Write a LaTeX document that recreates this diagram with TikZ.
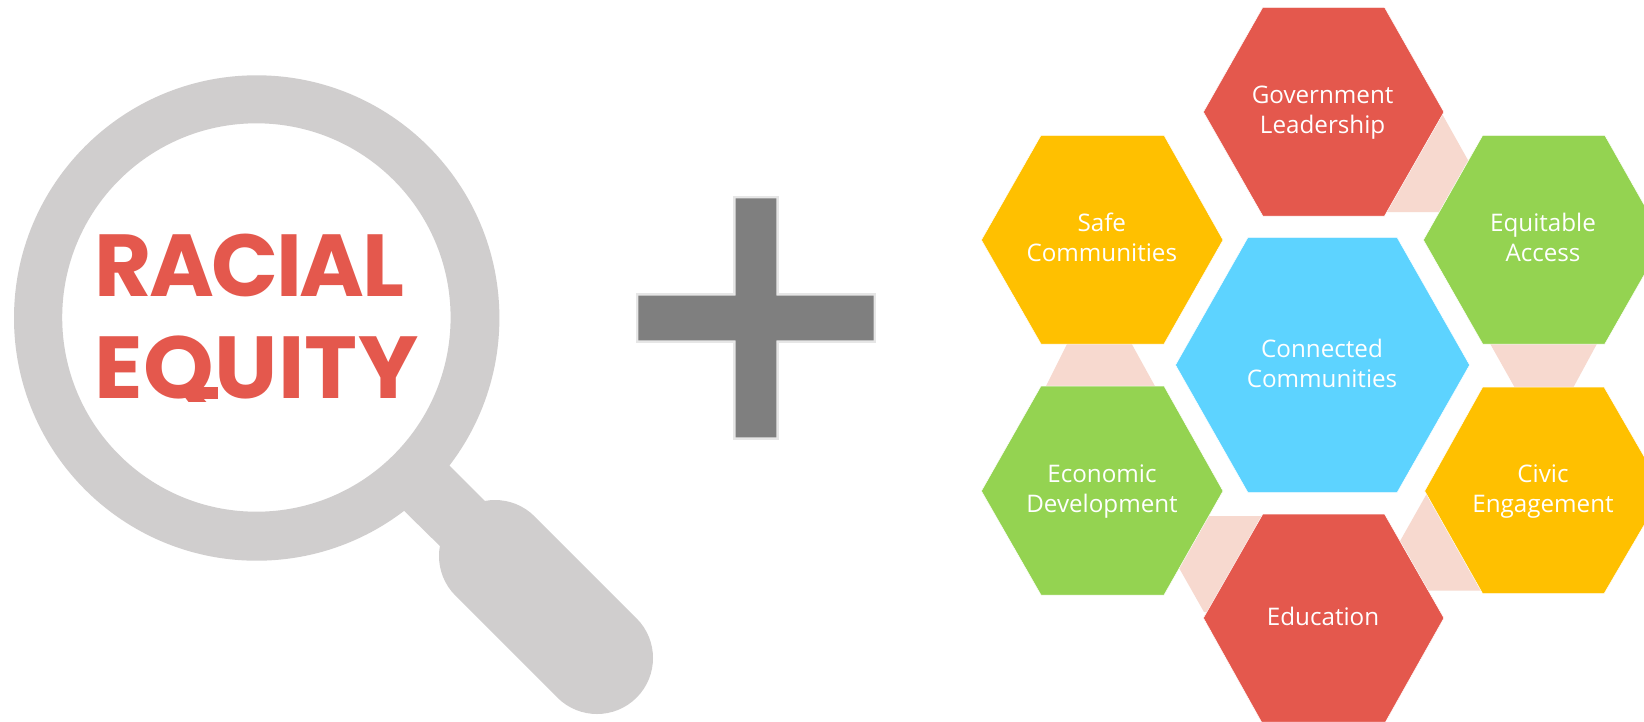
\documentclass[tikz,border=0pt]{standalone}
\usepackage{fontspec}
\setmainfont{Open Sans}
\newfontfamily\racialfont[LetterSpace=-2.8]{Poppins}
\newfontfamily\equityfont[LetterSpace=0.4,FakeStretch=1.02]{Poppins}
\definecolor{hexred}{HTML}{E4584D}
\definecolor{hexyellow}{HTML}{FFC000}
\definecolor{hexgreen}{HTML}{94D351}
\definecolor{hexblue}{HTML}{5DD3FF}
\definecolor{pale}{HTML}{F7D9CF}
\definecolor{glass}{HTML}{D0CECE}
\definecolor{plusgray}{HTML}{7F7F7F}
\definecolor{plusedge}{HTML}{E6E6E6}
\tikzset{
  hexlabel/.style={inner sep=0pt,outer sep=0pt,align=center,text=white,yshift=-0.7pt,
    font=\fontsize{24.2}{30}\selectfont},
  hexshape/.style={draw=white,line width=0.5pt,line join=miter},
  linkshape/.style={fill=pale},
  titletext/.style={inner sep=0pt,outer sep=0pt,anchor=base west,text=hexred}
}
\begin{document}
\begin{tikzpicture}[x=1pt,y=-1pt]
\useasboundingbox (0,0) rectangle (1644,721);
\fill[white] (0,0) rectangle (1644,721);
\clip (0,0) rectangle (1644,721);
% magnifying glass
\fill[glass,even odd rule] (256.7,318) circle[radius=242.7] (256.4,317.5) circle[radius=194.2];
\fill[glass] (435.6,451.6) -- (490,506) -- (445,551) -- (390,497) -- cycle;
\draw[glass,line width=112pt,line cap=round] (495,556) -- (597,658);
\node[titletext,font=\racialfont\bfseries\fontsize{88}{88}\selectfont] (racial) at (94.5,296) {RACIAL};
\begin{scope}
\clip (60,330) rectangle (440,401);
\node[titletext,font=\equityfont\bfseries\fontsize{88}{88}\selectfont] (equity) at (94.5,398.7) {EQUITY};
\end{scope}
\fill[hexred] (190,386.7) rectangle (218,398.7);
% plus
\fill[plusgray,preaction={draw=plusedge,line width=5pt}]
  (735.7,198.3) -- (776.3,198.3) -- (776.3,295.7) -- (873.7,295.7) -- (873.7,340.3)
  -- (776.3,340.3) -- (776.3,437.3) -- (735.7,437.3) -- (735.7,340.3) -- (638.3,340.3)
  -- (638.3,295.7) -- (735.7,295.7) -- cycle;
% pale links
\fill[linkshape] (1441,112) -- (1497,212) -- (1380,212) -- cycle;
\fill[linkshape] (1074,330) -- (1124,330) -- (1156,388) -- (1045,388) -- cycle;
\fill[linkshape] (1488,340) -- (1599,340) -- (1573,388) -- (1515,388) -- cycle;
\fill[linkshape] (1180,516) -- (1275,516) -- (1215,612) -- (1204,612) -- (1170,552) -- cycle;
\fill[linkshape] (1395,550) -- (1430,488) -- (1492,590.7) -- (1420,590.7) -- cycle;
% hexagons
\fill[hexred,hexshape] (1262.8,7.3) -- (1384.5,7.3) -- (1443.9,112) -- (1384.5,216) -- (1262.8,216) -- (1203.4,112) -- cycle;
\fill[hexyellow,hexshape] (1041,135.3) -- (1164,135.3) -- (1223,240) -- (1164,344) -- (1041,344) -- (981.4,240) -- cycle;
\fill[hexgreen,hexshape] (1482.7,135.3) -- (1604.8,135.3) -- (1664,240) -- (1604.8,344) -- (1482.7,344) -- (1423.4,240) -- cycle;
\fill[hexblue,hexshape] (1248,237.3) -- (1397,237.3) -- (1469.6,365) -- (1397,492.7) -- (1248,492.7) -- (1175.5,365) -- cycle;
\fill[hexgreen,hexshape] (1041,386) -- (1164,386) -- (1223,491) -- (1164,595) -- (1041,595) -- (981.4,491) -- cycle;
\fill[hexyellow,hexshape] (1482.7,387) -- (1604,387) -- (1664,491) -- (1604,593.7) -- (1482.7,593.7) -- (1424.7,491) -- cycle;
\fill[hexred,hexshape] (1262.8,514) -- (1384.5,514) -- (1443.9,618) -- (1385.5,722) -- (1261.5,722) -- (1203.4,618) -- cycle;
% labels
\node[hexlabel] (gov) at (1322.6,112) {\strut Government\\\strut Leadership};
\node[hexlabel] (safe) at (1101.8,240) {\strut Safe\\\strut Communities};
\node[hexlabel] (eqa) at (1543,240) {\strut Equitable\\\strut Access};
\node[hexlabel] (con) at (1322,366) {\strut Connected\\\strut Communities};
\node[hexlabel] (eco) at (1102,490.7) {\strut Economic\\\strut Development};
\node[hexlabel] (civ) at (1543,490.7) {\strut Civic\\\strut Engagement};
\node[hexlabel] (edu) at (1323,619) {\strut Education};
\end{tikzpicture}
\end{document}
